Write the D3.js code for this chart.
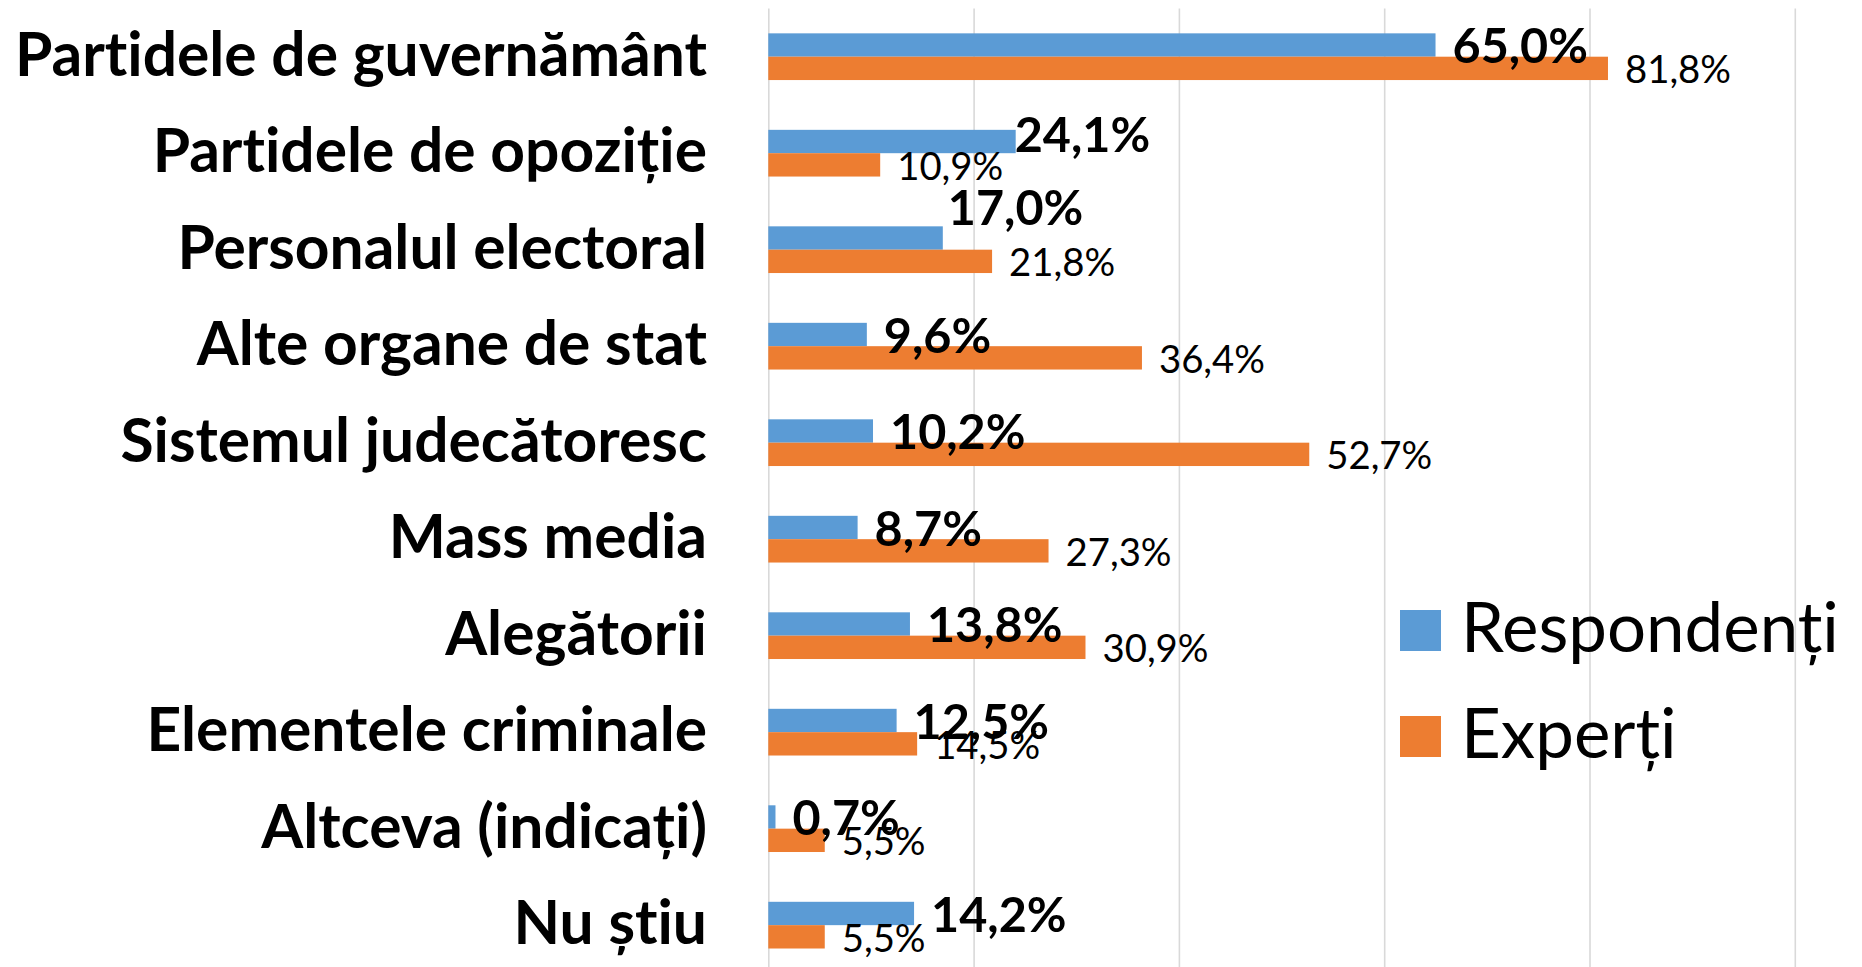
<!DOCTYPE html>
<html>
<head>
<meta charset="utf-8">
<script src="https://cdn.jsdelivr.net/npm/d3@7"></script>
<style>
  body { margin: 0; background: #fff; }
  svg { display: block; font-family: Lato, "Open Sans", sans-serif; }
  svg text { font-variant-ligatures: none; font-feature-settings: "liga" 0, "dlig" 0; }
</style>
</head>
<body>
<div id="chart"></div>
<script>
// chart data
const categories = [
  "Partidele de guvernământ",
  "Partidele de opoziție",
  "Personalul electoral",
  "Alte organe de stat",
  "Sistemul judecătoresc",
  "Mass media",
  "Alegătorii",
  "Elementele criminale",
  "Altceva (indicați)",
  "Nu știu"
];
const seriesNames = ["Respondenți", "Experți"];
const respondenti = [65.0, 24.1, 17.0, 9.6, 10.2, 8.7, 13.8, 12.5, 0.7, 14.2];
const experti = [81.8, 10.9, 21.8, 36.4, 52.7, 27.3, 30.9, 14.5, 5.5, 5.5];
const xTicks = [0, 20, 40, 60, 80, 100];

// layout
const width = 1862;
const height = 967;
const colors = ["#5B9BD5", "#ED7D31"];
const plot = { left: 768.3, right: 1794.8, top: 8.45, bottom: 973.4 };

// a couple of the bold labels were dragged by hand in the original
const labelNudge = { 1: [-18, -8], 2: [-12, -31] };

const svg = d3.select("#chart")
  .append("svg")
  .attr("width", width)
  .attr("height", height);

svg.append("rect").attr("width", width).attr("height", height).attr("fill", "#fff");

const x = d3.scaleLinear().domain([0, 100]).range([plot.left, plot.right]);

const y = d3.scaleBand()
  .domain(categories)
  .range([plot.top, plot.bottom])
  .paddingInner(0.516)
  .paddingOuter(0.258);

const ySeries = d3.scaleBand()
  .domain(seriesNames)
  .range([0, y.bandwidth()]);

const fmt = d3.formatLocale({ decimal: ",", thousands: ".", grouping: [3], currency: ["", ""] }).format(".1f");

// gridlines
const grid = svg.append("g")
  .attr("transform", `translate(0,${plot.top})`)
  .call(d3.axisBottom(x).tickValues(xTicks).tickSize(plot.bottom - plot.top).tickFormat(""));
grid.select(".domain").remove();
grid.selectAll("line").attr("stroke", "#d9d9d9").attr("stroke-width", 1.6);

const rows = categories.map((c, i) => ({
  cat: c,
  i: i,
  values: [respondenti[i], experti[i]]
}));

// bars
const groups = svg.append("g").selectAll("g")
  .data(rows)
  .join("g")
  .attr("transform", d => `translate(0,${y(d.cat)})`);

groups.selectAll("rect")
  .data(d => d.values.map((v, k) => ({ v: v, s: seriesNames[k], k: k })))
  .join("rect")
  .attr("x", x(0))
  .attr("y", d => ySeries(d.s))
  .attr("width", d => x(d.v) - x(0))
  .attr("height", ySeries.bandwidth())
  .attr("fill", d => colors[d.k]);

// data labels
const boldSize = 48.5, normSize = 38.3, cap = 0.717;
groups.each(function(row) {
  const g = d3.select(this);
  row.values.forEach((v, k) => {
    const size = k === 0 ? boldSize : normSize;
    const nudge = (k === 0 && labelNudge[row.i]) || [0, 0];
    const cy = ySeries(seriesNames[k]) + ySeries.bandwidth() / 2;
    g.append("text")
      .attr("x", x(v) + 17 + nudge[0])
      .attr("y", cy + size * cap / 2 + 1 + nudge[1])
      .attr("font-size", size)
      .attr("font-weight", k === 0 ? 700 : 400)
      .attr("fill", "#000")
      .text(fmt(v) + "%");
  });
});

// category labels
svg.append("g").selectAll("text")
  .data(categories)
  .join("text")
  .attr("x", 707)
  .attr("y", d => y(d) + y.bandwidth() / 2 + 19)
  .attr("text-anchor", "end")
  .attr("font-size", 60.5)
  .attr("font-weight", 700)
  .attr("fill", "#000")
  .text(d => d);

// legend
const legend = svg.append("g").selectAll("g")
  .data(seriesNames)
  .join("g")
  .attr("transform", (d, i) => `translate(1400,${610 + i * 106})`);

legend.append("rect")
  .attr("width", 41)
  .attr("height", 41)
  .attr("fill", (d, i) => colors[i]);

legend.append("text")
  .attr("x", 61)
  .attr("y", 42)
  .attr("font-size", 69)
  .attr("fill", "#000")
  .text(d => d);
</script>
</body>
</html>
